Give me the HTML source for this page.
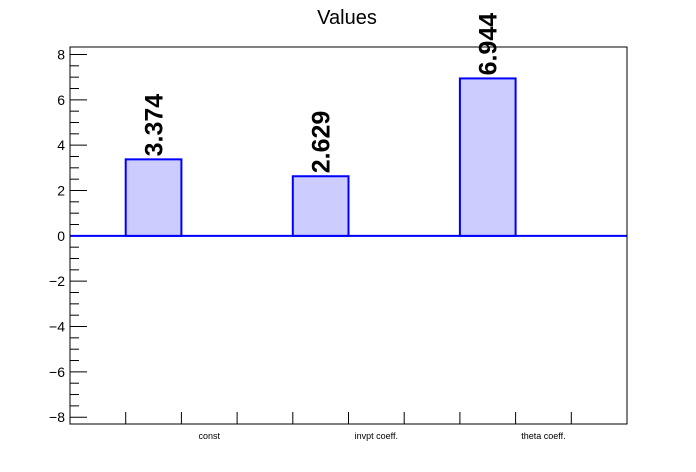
<!DOCTYPE html>
<html><head><meta charset="utf-8"><style>
html,body{margin:0;padding:0;background:#fff;}
svg{display:block;font-family:"Liberation Sans",Arial,sans-serif;}
</style></head><body>
<svg id="chart" width="696" height="472" viewBox="0 0 696 472">
<rect x="0" y="0" width="696" height="472" fill="#fff"/>
<text x="347" y="24" font-size="20" text-anchor="middle" fill="#000">Values</text>
<g id="yaxis"></g><g id="xaxis"></g><g id="bars"></g>
<rect x="70" y="47" width="557" height="377" fill="none" stroke="#000" stroke-width="1"/>
</svg>
<script>
const categories = ["const", "invpt coeff.", "theta coeff."];
const values = [3.374, 2.629, 6.944];
const valueLabels = ["3.374", "2.629", "6.944"];
const yTicks = [-8, -6, -4, -2, 0, 2, 4, 6, 8];
const yTickLabels = ["\u22128", "\u22126", "\u22124", "\u22122", "0", "2", "4", "6", "8"];

const NS = "http://www.w3.org/2000/svg";
const L = 70, R = 627, T = 47, B = 424;
const yMin = -8.3, yMax = 8.33;
const xMax = 10;
function ys(v){ return B - (v - yMin) / (yMax - yMin) * (B - T); }
function xs(v){ return L + v / xMax * (R - L); }
function mk(tag, attrs, parent){
  const e = document.createElementNS(NS, tag);
  for (const k in attrs) e.setAttribute(k, attrs[k]);
  parent.appendChild(e); return e;
}
const yg = document.getElementById("yaxis");
for (let v = -8; v <= 8.001; v += 0.5) {
  const major = Math.abs(v % 2) < 1e-6;
  const t = mk("line", {x1: L, x2: L + (major ? 17 : 9), y1: ys(v), y2: ys(v), stroke: "#000", "stroke-width": 1}, yg);
  
  
}
yTicks.forEach((v, i) => {
  const t = mk("text", {x: L - 5, y: ys(v) + 5, "font-size": 14, "text-anchor": "end", fill: "#000"}, yg);
  t.textContent = yTickLabels[i];
  
  
});
const xg = document.getElementById("xaxis");
for (let i = 1; i < xMax; i++) {
  const t = mk("line", {x1: xs(i), x2: xs(i), y1: B, y2: B - 12, stroke: "#000", "stroke-width": 1}, xg);
  
  
}
categories.forEach((c, i) => {
  const t = mk("text", {x: xs(2.5 + 3 * i), y: B + 15, "font-size": 9, "text-anchor": "middle", fill: "#000"}, xg);
  t.textContent = c;
  
  
});
const bg = document.getElementById("bars");
const zl = mk("line", {x1: L, x2: R, y1: ys(0), y2: ys(0), stroke: "#0000ff", "stroke-width": 2}, bg);


values.forEach((v, i) => {
  const x0 = xs(1 + 3 * i), x1 = xs(2 + 3 * i);
  const top = ys(Math.max(v, 0)), bot = ys(Math.min(v, 0));
  const r = mk("rect", {x: x0, y: top, width: x1 - x0, height: bot - top, fill: "#ccccff", stroke: "#0000ff", "stroke-width": 2}, bg);
  
  
  const cx = (x0 + x1) / 2, ty = top - 3;
  const t = mk("text", {x: cx + 9, y: ty, "font-size": 25, "font-weight": "bold", fill: "#000", transform: "rotate(-90 " + (cx + 9) + " " + ty + ")"}, bg);
  t.textContent = valueLabels[i];
  
  
});
</script>
</body></html>
